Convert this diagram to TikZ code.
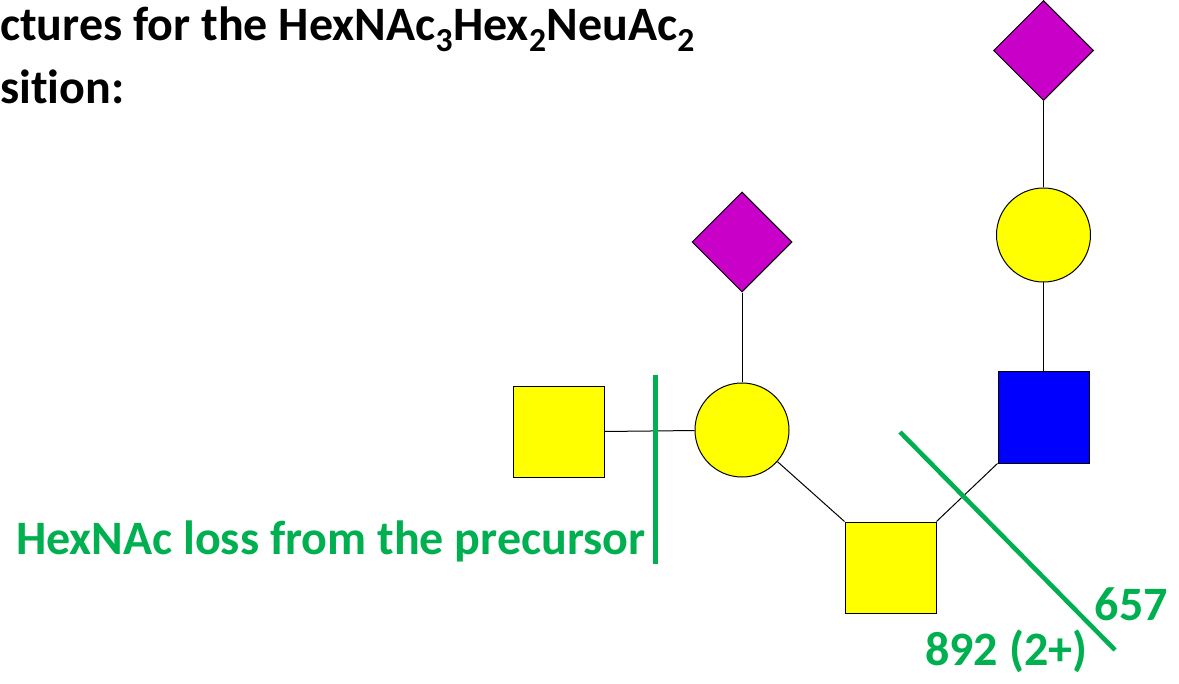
\documentclass[tikz,border=0pt]{standalone}
\usepackage{fontspec}
\setmainfont{Carlito}[Ligatures=NoCommon]
\usetikzlibrary{shapes.geometric, positioning}
\definecolor{glyyel}{HTML}{FFFF00}
\definecolor{glyblue}{HTML}{0000FF}
\definecolor{glymag}{HTML}{C800C8}
\definecolor{cutgrn}{HTML}{00B050}
\tikzset{
  res/.style={draw=black, line width=0.75pt, inner sep=0pt},
  sq/.style={res, rectangle, minimum size=68.25pt},
  rnd/.style={res, circle, fill=glyyel, minimum size=70.5pt},
  dia/.style={res, diamond, fill=glymag, minimum size=75pt},
  bond/.style={black, line width=0.75pt},
  cut/.style={cutgrn, line width=3.4pt},
  head/.style={font=\fontsize{36}{40}\selectfont\bfseries, inner sep=0pt},
  lbl/.style={text=cutgrn, font=\fontsize{36}{40}\selectfont\bfseries, inner sep=0pt}
}

\begin{document}
\begin{tikzpicture}[x=0.75pt, y=-0.75pt]
  \useasboundingbox (0,0) rectangle (1179,684);
  % heading, running in from the left edge
  \node[head, anchor=base west] (head1) at (0,41)
    {ctures for the HexNAc\textsubscript{3}Hex\textsubscript{2}NeuAc\textsubscript{2}};
  \node[head, anchor=base west] (head2) at (0,104) {sition:};
  % residues
  \node[sq, fill=glyyel] (galnacL) at (558.5,432) {};
  \node[rnd] (hexL) at (742,430) {};
  \node[dia] (neuL) at (742,242) {};
  \node[sq, fill=glyyel] (core) at (890.5,567.5) {};
  \node[sq, fill=glyblue] (glcnac) at (1043.5,417.5) {};
  \node[rnd] (hexR) at (1043.5,235) {};
  \node[dia] (neuR) at (1043.5,50.5) {};
  % linkages
  \draw[bond] (galnacL) -- (hexL);
  \draw[bond] (hexL) -- (neuL);
  \draw[bond] (hexL) -- (core.north west);
  \draw[bond] (core.north east) -- (glcnac.south west);
  \draw[bond] (glcnac) -- (hexR);
  \draw[bond] (hexR) -- (neuR);
  % fragment cuts
  \coordinate (cutA1) at (655.5,375);
  \coordinate (cutA2) at (655.5,564);
  \coordinate (cutB1) at (900,432);
  \coordinate (cutB2) at (1115,650);
  \draw[cut] (cutA1) -- (cutA2);
  \draw[cut] (cutB1) -- (cutB2);
  \node[lbl, anchor=base east] (lossA) at (646,554) {HexNAc loss from the precursor};
  \node[lbl, anchor=base east] (m657) at (1168,620) {657};
  \node[lbl, anchor=base west] (m892) at (925,665) {892 (2+)};
\end{tikzpicture}
\end{document}
